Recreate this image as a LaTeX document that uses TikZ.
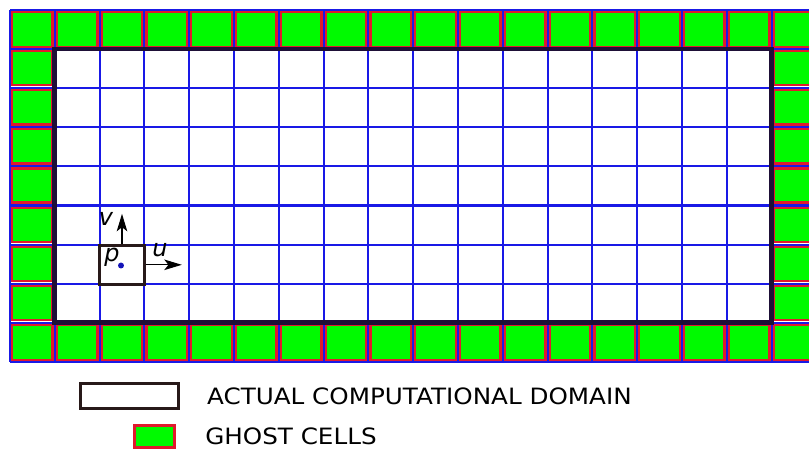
\documentclass[tikz,border=0pt]{standalone}
\usepackage{fontspec}
\setmainfont{DejaVu Sans}
\newfontfamily\legendfont[FakeStretch=1.095]{DejaVu Sans}
\usetikzlibrary{arrows.meta, positioning, calc}
\definecolor{cellgreen}{RGB}{0,250,0}
\definecolor{cellred}{RGB}{225,25,45}
\definecolor{gridblue}{RGB}{25,25,230}
\definecolor{domainedge}{RGB}{30,15,55}
\definecolor{legendedge}{RGB}{40,25,25}

\begin{document}
\begin{tikzpicture}[
    x=0.025cm, y=-0.025cm,
    ghost/.style={draw=cellred, line width=1.6pt, fill=cellgreen},
    gridline/.style={draw=gridblue, line width=1.5pt},
    domainbox/.style={draw=domainedge, line width=3.4pt},
    pcell/.style={draw=legendedge, line width=2pt, minimum width=1.12cm, minimum height=0.98cm, inner sep=0pt},
    arrow/.style={thick, -{Stealth[length=12.5pt, width=7.5pt, inset=3pt]}},
    sym/.style={font=\fontsize{17}{19}\selectfont\itshape, inner sep=0pt},
    legtext/.style={font=\fontsize{16}{18}\legendfont, anchor=west, inner sep=0pt}
]
\useasboundingbox (0,0) rectangle (809,450);
\clip (0,0) rectangle (809,450);

% Ghost cells
\foreach \i in {0,...,17} {
  \draw[ghost] (12+44.8*\i, 12) rectangle (7.8+44.8*\i+44.8, 47.1);
  \draw[ghost] (12+44.8*\i, 324.8) rectangle (7.8+44.8*\i+44.8, 359.9);
}
\foreach \j in {1,...,7} {
  \draw[ghost] (12, 12+39.1*\j) rectangle (52.6, 7.1+39.1*\j+39.1);
  \draw[ghost] (774, 12+39.1*\j) rectangle (814.4, 7.1+39.1*\j+39.1);
}

% Grid
\foreach \i in {0,...,18}
  \draw[gridline] (10+44.8*\i, 10) -- (10+44.8*\i, 362);
\foreach \j in {0,...,9}
  \draw[gridline] (10, 10+39.1*\j) -- (820, 10+39.1*\j);

% Computational domain
\draw[domainbox] (54.8, 49.1) rectangle (771.6, 322.8);

% Cell p
\node (cellp) [pcell] at (122, 264.8) {};
\node (pdot) [circle, fill=gridblue!80!black, inner sep=1.5pt] at (121, 265.5) {};
\node (plabel) [sym] at (112, 257) {p};
\draw [arrow] (cellp.north) -- ++(0,-30) coordinate (vtip);
\node (vlabel) [sym, left=0.22cm of vtip, yshift=-0.12cm] {v};
\draw [arrow] (cellp.east) -- ++(36,0) coordinate (utip);
\node (ulabel) [sym] at (160, 250) {u};

% Legend
\node (domkey) [draw=legendedge, line width=2.2pt, fill=white, minimum width=2.45cm, minimum height=0.62cm, inner sep=0pt] at (129.5, 396) {};
\node (domtext) [legtext, right=0.67cm of domkey] {ACTUAL COMPUTATIONAL DOMAIN};
\node (ghostkey) [draw=cellred, line width=2.4pt, fill=cellgreen, minimum width=1.0cm, minimum height=0.56cm, inner sep=0pt] at (154.5, 436.5) {};
\node (ghosttext) [legtext, right=0.72cm of ghostkey] {GHOST CELLS};

\end{tikzpicture}
\end{document}
